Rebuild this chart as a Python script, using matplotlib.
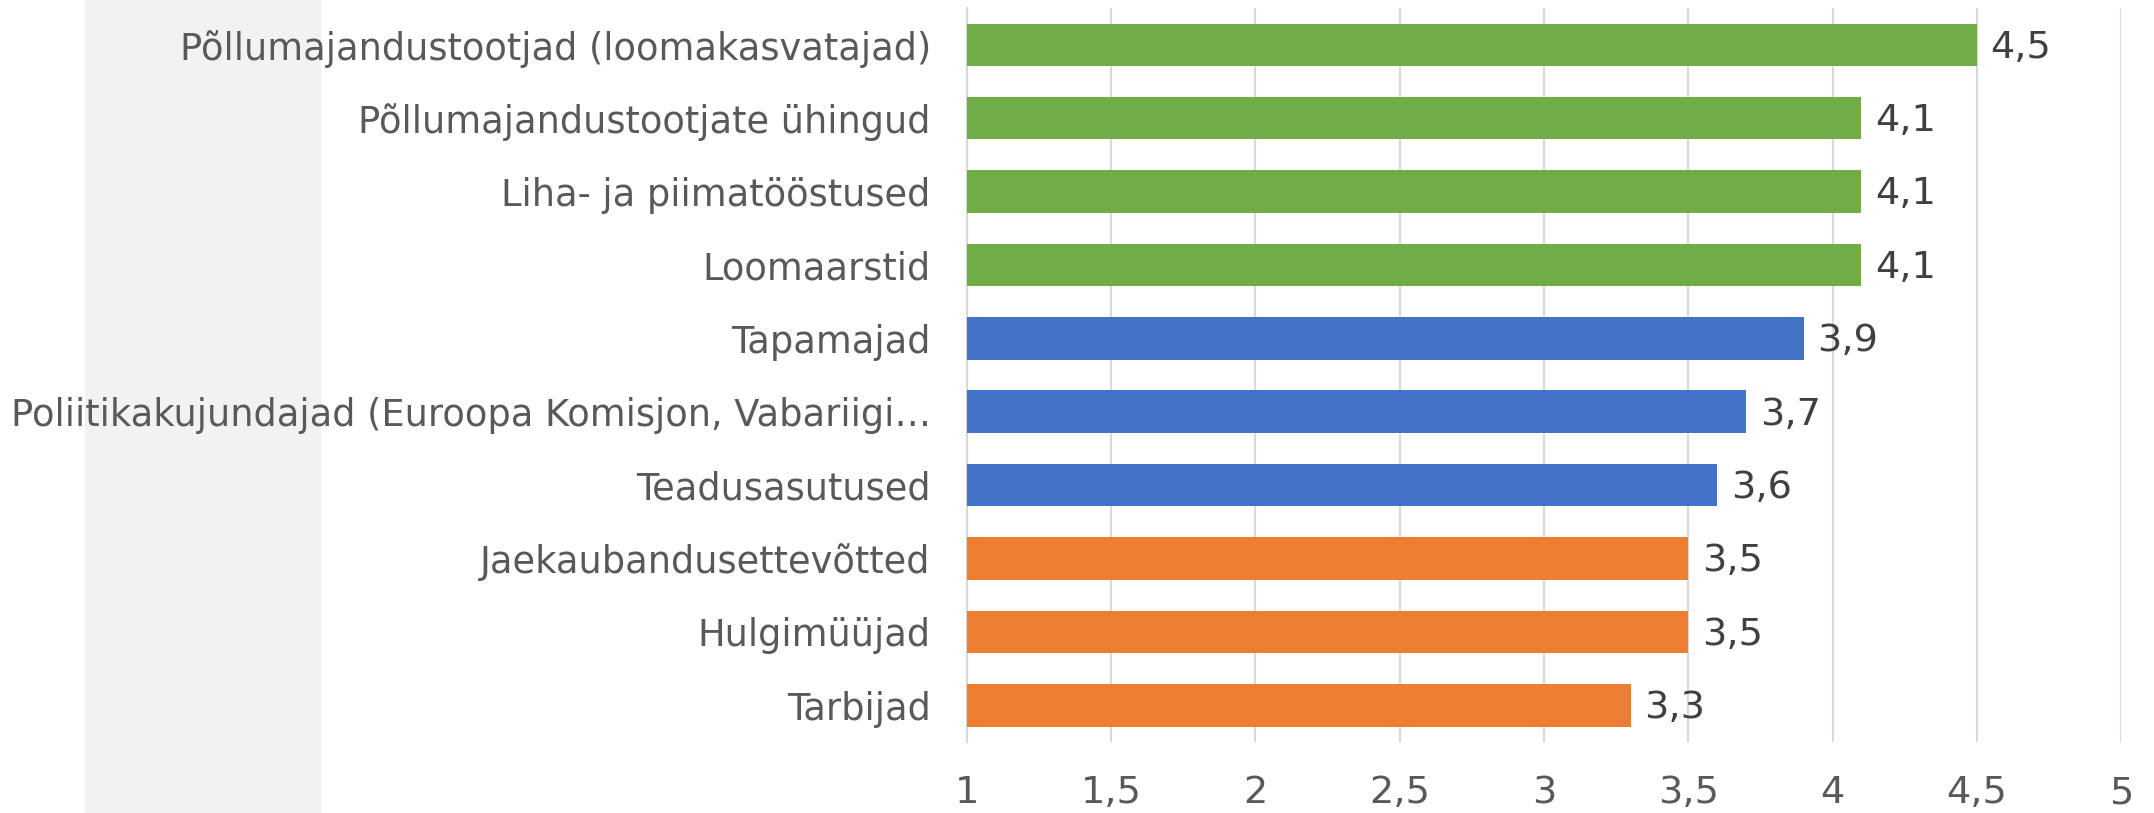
import matplotlib.pyplot as plt
from matplotlib.patches import Rectangle

# andmed (ülevalt alla)
categories = [
    "Põllumajandustootjad (loomakasvatajad)",
    "Põllumajandustootjate ühingud",
    "Liha- ja piimatööstused",
    "Loomaarstid",
    "Tapamajad",
    "Poliitikakujundajad (Euroopa Komisjon, Vabariigi…",
    "Teadusasutused",
    "Jaekaubandusettevõtted",
    "Hulgimüüjad",
    "Tarbijad",
]
values = [4.5, 4.1, 4.1, 4.1, 3.9, 3.7, 3.6, 3.5, 3.5, 3.3]
groups = ["g", "g", "g", "g", "b", "b", "b", "o", "o", "o"]
xticks = [1, 1.5, 2, 2.5, 3, 3.5, 4, 4.5, 5]

colors = {"g": "#70AD47", "b": "#4472C4", "o": "#ED7D31"}

plt.rcParams["font.family"] = "DejaVu Sans"

fig = plt.figure(figsize=(21.54, 8.13), dpi=100)
fig.patches.append(Rectangle((0.0395, 0), 0.1096, 1, transform=fig.transFigure,
                             facecolor="#F2F2F2", edgecolor="none", zorder=-5))

ax = fig.add_axes([0.4489, 0.0873, 0.5358, 0.9027])
ax.patch.set_alpha(0)

y = list(range(len(categories)))
ax.barh(y, [v - 1 for v in values], left=1, height=0.58,
        color=[colors[g] for g in groups], zorder=3)

for yi, v in zip(y, values):
    ax.annotate(f"{v:.1f}".replace(".", ","), (v, yi), xytext=(10, -2),
                textcoords="offset points", va="center", ha="left",
                fontsize=27.5, color="#404040")

ax.set_xlim(1, 5)
ax.set_ylim(len(categories) - 0.5, -0.5)
ax.set_xticks(xticks)
ax.set_xticklabels([f"{t:g}".replace(".", ",") for t in xticks])
ax.set_yticks(y)
ax.set_yticklabels(categories)

ax.grid(axis="x", color="#D9D9D9", linewidth=1.5, zorder=0)
for s in ["top", "right", "bottom"]:
    ax.spines[s].set_visible(False)
ax.spines["left"].set_color("#D9D9D9")
ax.spines["left"].set_linewidth(1.5)
ax.tick_params(axis="both", length=0, labelsize=27.5, labelcolor="#595959")
ax.tick_params(axis="y", pad=26, labelsize=26.5)
ax.tick_params(axis="x", pad=24)

fig.savefig("out.png", dpi=100)
